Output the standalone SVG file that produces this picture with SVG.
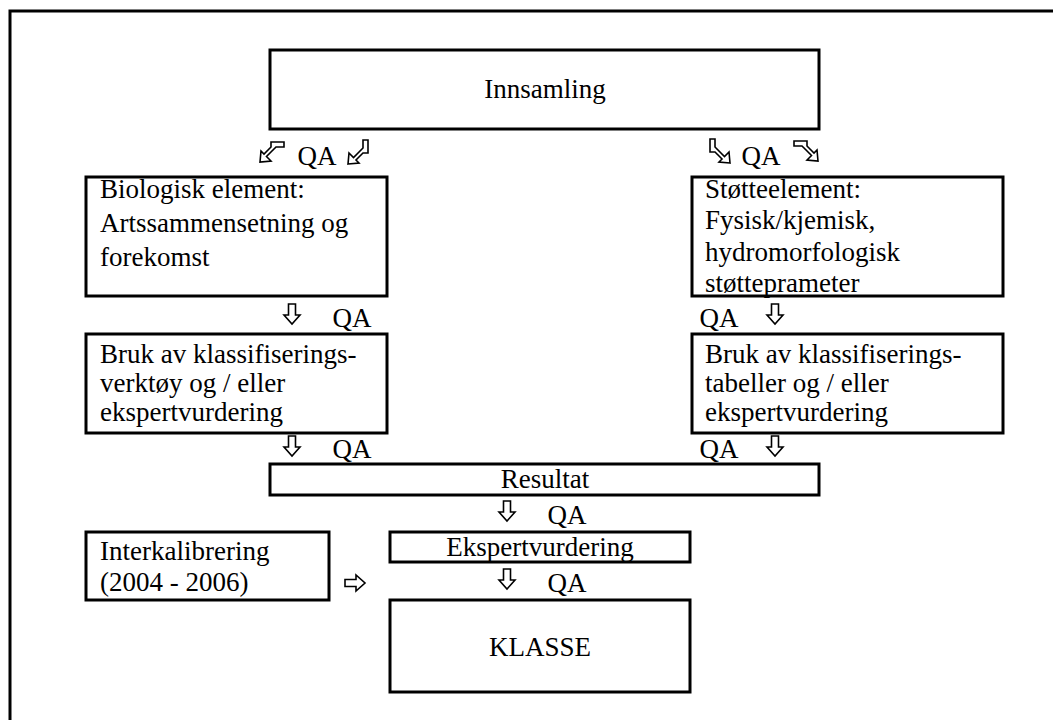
<svg xmlns="http://www.w3.org/2000/svg" width="1053" height="720" viewBox="0 0 1053 720">
<style>
.box{fill:#fff;stroke:#000;stroke-width:3}
.t{font-family:"Liberation Serif","Times New Roman",serif;font-size:27px;fill:#000}
.c{text-anchor:middle}
.ar{fill:#fff;stroke:#000;stroke-width:1.6;stroke-linejoin:miter}
</style>
<defs>
<path id="down" d="M-3.5,-10 H3.5 V1 H8 L0,10 L-8,1 H-3.5 Z"/>
<path id="bent" d="M-12,10 L-11,-1 L-8,2 L-1,-5 L-1,-10 L12,-10 L12,-5 L4,-5 L-5.5,4.5 L-1,9 Z"/>
</defs>
<rect width="1053" height="720" fill="#fff"/>
<path d="M10,722 V11 H1055" fill="none" stroke="#000" stroke-width="3"/>

<g id="connectors">
<use href="#bent" class="ar" transform="translate(272,152)"/>
<use href="#bent" class="ar" transform="matrix(0,-1,-1,0,358,152)"/>
<use href="#bent" class="ar" transform="matrix(0,-1,1,0,720,151)"/>
<use href="#bent" class="ar" transform="translate(806,151) scale(-1,1)"/>
<use href="#down" class="ar" transform="translate(292,314)"/>
<use href="#down" class="ar" transform="translate(775,314)"/>
<use href="#down" class="ar" transform="translate(292,446)"/>
<use href="#down" class="ar" transform="translate(775,446)"/>
<use href="#down" class="ar" transform="translate(507,511)"/>
<use href="#down" class="ar" transform="translate(507,579)"/>
<use href="#down" class="ar" transform="translate(355,583) rotate(-90)"/>
<text class="t c" x="317" y="165">QA</text>
<text class="t c" x="761" y="165">QA</text>
<text class="t c" x="352" y="327">QA</text>
<text class="t c" x="719" y="327">QA</text>
<text class="t c" x="352" y="458">QA</text>
<text class="t c" x="719" y="458">QA</text>
<text class="t c" x="567" y="524">QA</text>
<text class="t c" x="567" y="592">QA</text>
</g>

<g id="innsamling">
<rect class="box" x="270" y="50" width="549" height="79"/>
<text class="t c" x="545" y="98">Innsamling</text>
</g>
<g id="biologisk">
<rect class="box" x="86" y="177" width="301" height="119"/>
<text class="t" x="100" y="198">Biologisk element:</text>
<text class="t" x="100" y="232">Artssammensetning og</text>
<text class="t" x="100" y="266">forekomst</text>
</g>
<g id="stotteelement">
<rect class="box" x="692" y="177" width="311" height="119"/>
<text class="t" x="705" y="198">Støtteelement:</text>
<text class="t" x="705" y="229">Fysisk/kjemisk,</text>
<text class="t" x="705" y="261">hydromorfologisk</text>
<text class="t" x="705" y="292">støtteprameter</text>
</g>
<g id="klass-bio">
<rect class="box" x="86" y="334" width="301" height="99"/>
<text class="t" x="100" y="363">Bruk av klassifiserings-</text>
<text class="t" x="100" y="392">verktøy og / eller</text>
<text class="t" x="100" y="421">ekspertvurdering</text>
</g>
<g id="klass-stotte">
<rect class="box" x="692" y="334" width="311" height="99"/>
<text class="t" x="705" y="363">Bruk av klassifiserings-</text>
<text class="t" x="705" y="392">tabeller og / eller</text>
<text class="t" x="705" y="421">ekspertvurdering</text>
</g>
<g id="resultat">
<rect class="box" x="270" y="464" width="549" height="31"/>
<text class="t c" x="545" y="488">Resultat</text>
</g>
<g id="ekspertvurdering">
<rect class="box" x="390" y="532" width="300" height="30"/>
<text class="t c" x="540" y="556">Ekspertvurdering</text>
</g>
<g id="interkalibrering">
<rect class="box" x="86" y="532" width="243" height="68"/>
<text class="t" x="100" y="560">Interkalibrering</text>
<text class="t" x="100" y="591">(2004 - 2006)</text>
</g>
<g id="klasse">
<rect class="box" x="390" y="600" width="300" height="92"/>
<text class="t c" x="540" y="656">KLASSE</text>
</g>
</svg>
